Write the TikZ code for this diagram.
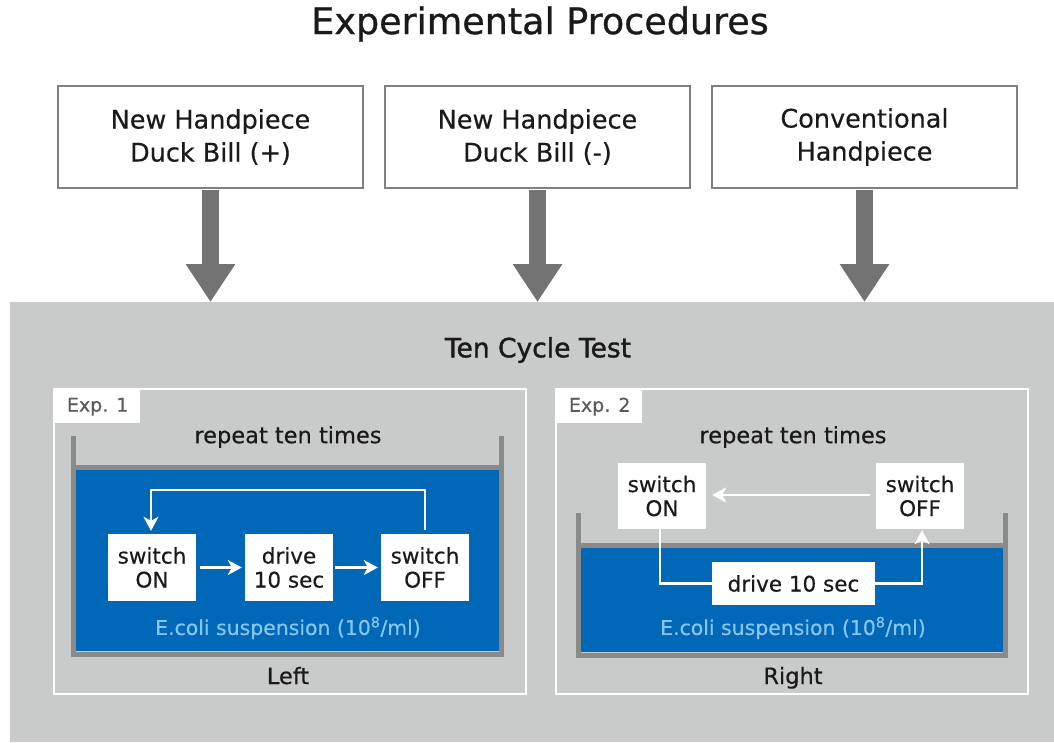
\documentclass[tikz,border=0pt]{standalone}
\usepackage{fontspec}
\setmainfont{DejaVu Sans}[FakeBold=0.4]
\newfontfamily\medfont{DejaVu Sans}[FakeBold=0.8]
\newfontfamily\semifont{DejaVu Sans}[FakeBold=1.4]
\usetikzlibrary{arrows.meta}
\definecolor{bggray}{HTML}{C9CACA}
\definecolor{boxgray}{HTML}{808080}
\definecolor{arrgray}{HTML}{737373}
\definecolor{wallgray}{HTML}{8A8A8A}
\definecolor{water}{HTML}{0068B7}
\definecolor{ecoli}{HTML}{86C6F0}
\definecolor{explabel}{HTML}{5A5A5A}
\definecolor{txt}{HTML}{1A1A1A}
\begin{document}
\begin{tikzpicture}[x=1pt,y=-1pt,
  topbox/.style={draw=boxgray, line width=2pt, fill=white, minimum width=305pt, minimum height=102pt, align=center, text=txt, font=\fontsize{25.5}{33}\selectfont},
  bigarrow/.style={arrgray, line width=17pt, -{Triangle[width=47pt,length=38pt]}},
  frame/.style={draw=white, line width=2pt, minimum width=472pt, minimum height=305pt, anchor=north west, inner sep=0pt},
  explab/.style={fill=white, anchor=north west, minimum width=85pt, minimum height=33pt, inner sep=0pt, text=explabel, font=\fontsize{19}{22}\selectfont},
  wbox/.style={fill=white, inner sep=0pt, align=center, text=txt, font=\fontsize{21.5}{24}\selectfont},
  warr/.style={white, line width=2.5pt, -{Stealth[length=14pt,width=15pt,inset=4pt]}},
  wline/.style={white, line width=2.5pt},
  wall/.style={wallgray, line width=5pt},
  lbl/.style={text=txt, font=\fontsize{22.5}{26}\selectfont},
  eco/.style={text=ecoli, font=\fontsize{20.4}{24}\selectfont}
]
\useasboundingbox (0,0) rectangle (1054,742);
\fill[white] (0,0) rectangle (1054,742);

% title
\node[text=txt, font=\medfont\fontsize{36.5}{42}\selectfont] (title) at (540,24) {Experimental Procedures};

% top boxes
\node[topbox] (h1) at (210.5,137) {New Handpiece\\Duck Bill (+)};
\node[topbox] (h2) at (537.5,137) {New Handpiece\\Duck Bill (-)};
\node[topbox] (h3) at (864.5,137) {Conventional\\Handpiece};

% background
\node[fill=bggray, minimum width=1044pt, minimum height=440pt, anchor=north west, inner sep=0pt] (bg) at (10,302) {};

% big arrows
\draw[bigarrow] ([yshift=-1pt]h1.south) -- (h1.south |- bg.north);
\draw[bigarrow] ([yshift=-1pt]h2.south) -- (h2.south |- bg.north);
\draw[bigarrow] ([yshift=-1pt]h3.south) -- (h3.south |- bg.north);

\node[text=txt, font=\semifont\fontsize{26.5}{30}\selectfont] (ten) at (538,350) {Ten Cycle Test};

% ---------------- Exp 1
\node[frame] (f1) at (53,388) {};
\node[explab] (e1) at (55,390) {Exp. 1};
\fill[water] (76,470) rectangle (499,651);
\draw[wall] (73.5,436) -- (73.5,654) -- (501.5,654) -- (501.5,436);
\draw[wall] (76,467.5) -- (499,467.5);
\node[lbl] (r1) at (288,437) {repeat ten times};
\node[wbox, minimum width=88pt, minimum height=67pt] (on1) at (152,567.5) {switch\\ON};
\node[wbox, minimum width=88pt, minimum height=67pt] (dr1) at (289,567.5) {drive\\10 sec};
\node[wbox, minimum width=88pt, minimum height=67pt] (off1) at (425,567.5) {switch\\OFF};
\draw[warr, shorten <=4pt, shorten >=3pt] (on1) -- (dr1);
\draw[warr, shorten <=2pt, shorten >=3pt] (dr1) -- (off1);
\draw[warr] ([yshift=4pt]off1.north) -- ++(0,-40) -| ([xshift=-1pt,yshift=3pt]on1.north);
\node[eco] (ec1) at (288,628) {E.coli suspension (10\textsuperscript{8}/ml)};
\node[lbl, anchor=base] (left) at (288,684) {Left};

% ---------------- Exp 2
\node[frame] (f2) at (555,388) {};
\node[explab] (e2) at (557,390) {Exp. 2};
\fill[water] (581,548) rectangle (1003,652);
\draw[wall] (578.5,513) -- (578.5,655) -- (1005.5,655) -- (1005.5,513);
\draw[wall] (581,545.5) -- (1003,545.5);
\node[lbl] (r2) at (793,437) {repeat ten times};
\node[wbox, minimum width=88pt, minimum height=66pt] (on2) at (662,496) {switch\\ON};
\node[wbox, minimum width=88pt, minimum height=66pt] (off2) at (920,496) {switch\\OFF};
\node[wbox, minimum width=163pt, minimum height=43pt] (dr2) at (793.5,583.5) {drive 10 sec};
\draw[warr, shorten <=6pt, shorten >=6pt] (off2.west |- 0,495) -- (on2.east |- 0,495);
\draw[wline] ([xshift=-2pt]on2.south) |- (dr2.west);
\draw[warr] (dr2.east) -| ([xshift=2pt,yshift=-1pt]off2.south);
\node[eco] (ec2) at (793,628) {E.coli suspension (10\textsuperscript{8}/ml)};
\node[lbl, anchor=base] (right) at (793,684) {Right};
\end{tikzpicture}
\end{document}
